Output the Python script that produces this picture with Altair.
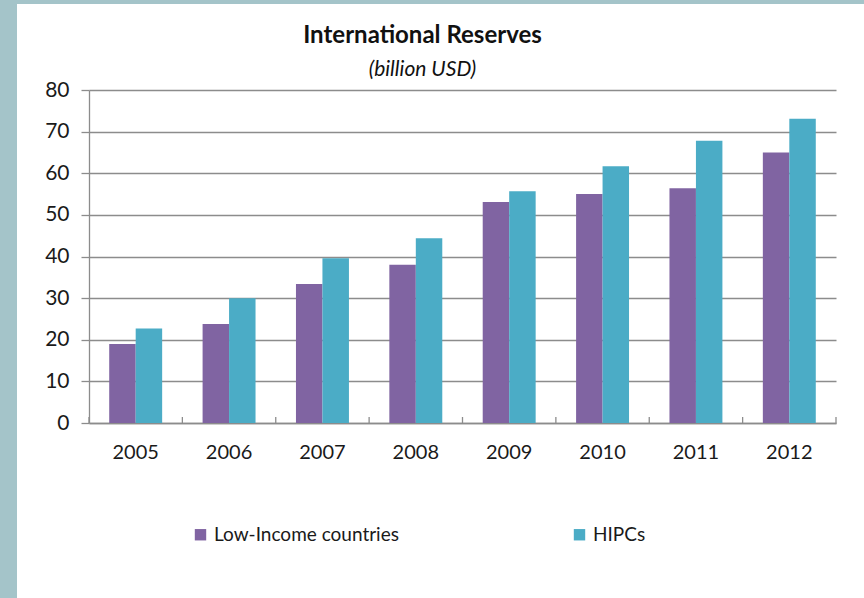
import altair as alt
import pandas as pd

# Annual international reserves, billion USD
years = ["2005", "2006", "2007", "2008", "2009", "2010", "2011", "2012"]
low_income = [19.0, 23.8, 33.4, 38.0, 53.1, 55.0, 56.4, 65.0]
hipcs = [22.7, 30.0, 39.6, 44.4, 55.7, 61.7, 67.8, 73.1]
series_names = ["Low-Income countries", "HIPCs"]
series_colors = ["#8064a2", "#4bacc6"]

rows = []
for y, a, b in zip(years, low_income, hipcs):
    rows.append({"year": y, "series": series_names[0], "value": a})
    rows.append({"year": y, "series": series_names[1], "value": b})
df = pd.DataFrame(rows)

FONT = "Lato"
GRID = "#8c8c8c"
W, H = 747, 333
PAD_L, PAD_T = 89, 90
CANVAS_W, CANVAS_H = 864, 598
STRIP = "#a4c4c9"

bars = alt.Chart(df).mark_bar().encode(
    x=alt.X(
        "year:N",
        sort=years,
        scale=alt.Scale(paddingInner=0.433, paddingOuter=0.2165),
        axis=alt.Axis(
            title=None, ticks=False, domain=True, domainColor=GRID,
            domainWidth=1.3, labelPadding=19, labelFontSize=20,
            labelFont=FONT, labelColor="#1a1a1a", labelAngle=0,
        ),
    ),
    xOffset=alt.XOffset("series:N", sort=series_names),
    y=alt.Y(
        "value:Q",
        scale=alt.Scale(domain=[0, 80], nice=False),
        axis=alt.Axis(
            title=None, values=list(range(0, 81, 10)), grid=True,
            gridColor=GRID, gridWidth=1.3, tickColor=GRID, tickSize=8,
            tickWidth=1.3, domain=True, domainColor=GRID, domainWidth=1.3,
            labelPadding=12, labelFontSize=21, labelFont=FONT,
            labelColor="#1a1a1a",
        ),
    ),
    color=alt.Color(
        "series:N",
        sort=series_names,
        scale=alt.Scale(domain=series_names, range=series_colors),
        legend=alt.Legend(
            title=None, orient="none", legendX=102, legendY=435,
            direction="horizontal", symbolType="square", symbolSize=130,
            symbolStrokeWidth=0, labelFont=FONT, labelFontSize=19,
            labelColor="#1a1a1a", columnPadding=171, labelOffset=4,
            labelLimit=400,
        ),
    ),
)

# small category separator ticks rising from the baseline
tick_df = pd.DataFrame({"year": years})
sep_scale = alt.Scale(type="band", domain=years, paddingInner=0, paddingOuter=0)
seps = alt.Chart(tick_df).mark_rule(color=GRID, strokeWidth=1.3).encode(
    x=alt.X("year:N", scale=sep_scale, axis=None, bandPosition=0),
    y=alt.value(H - 6),
    y2=alt.value(H),
)
end_sep = alt.Chart(tick_df).transform_filter(
    alt.datum.year == years[-1]
).mark_rule(color=GRID, strokeWidth=1.3).encode(
    x=alt.X("year:N", scale=sep_scale, axis=None, bandPosition=1),
    y=alt.value(H - 6),
    y2=alt.value(H),
)

# slide frame strips along the left and top edges
frame_df = pd.DataFrame({"edge": ["left", "top"]})
left_strip = alt.Chart(frame_df).transform_filter(
    alt.datum.edge == "left"
).mark_rect(color=STRIP).encode(
    x=alt.value(-PAD_L), x2=alt.value(-PAD_L + 17),
    y=alt.value(-PAD_T), y2=alt.value(CANVAS_H - PAD_T),
)
top_strip = alt.Chart(frame_df).transform_filter(
    alt.datum.edge == "top"
).mark_rect(color=STRIP).encode(
    x=alt.value(-PAD_L), x2=alt.value(CANVAS_W - PAD_L),
    y=alt.value(-PAD_T), y2=alt.value(-PAD_T + 4),
)

chart = alt.layer(left_strip, top_strip, bars, seps, end_sep).resolve_scale(
    x="independent"
).properties(
    width=W,
    height=H,
    padding={"left": PAD_L, "top": PAD_T, "right": CANVAS_W - PAD_L - W,
             "bottom": CANVAS_H - PAD_T - H},
    autosize=alt.AutoSizeParams(type="none"),
    background="white",
    title=alt.TitleParams(
        "International Reserves",
        subtitle="(billion USD)",
        font=FONT, fontSize=24, fontWeight="bold", color="#111111",
        subtitleFont=FONT, subtitleFontSize=21, subtitleFontStyle="italic",
        subtitleColor="#111111", subtitlePadding=11,
        anchor="middle", dx=-40, offset=-80,
    ),
).configure_view(stroke=None)

chart.save("out.html", embed_options={"renderer": "svg", "actions": False})
